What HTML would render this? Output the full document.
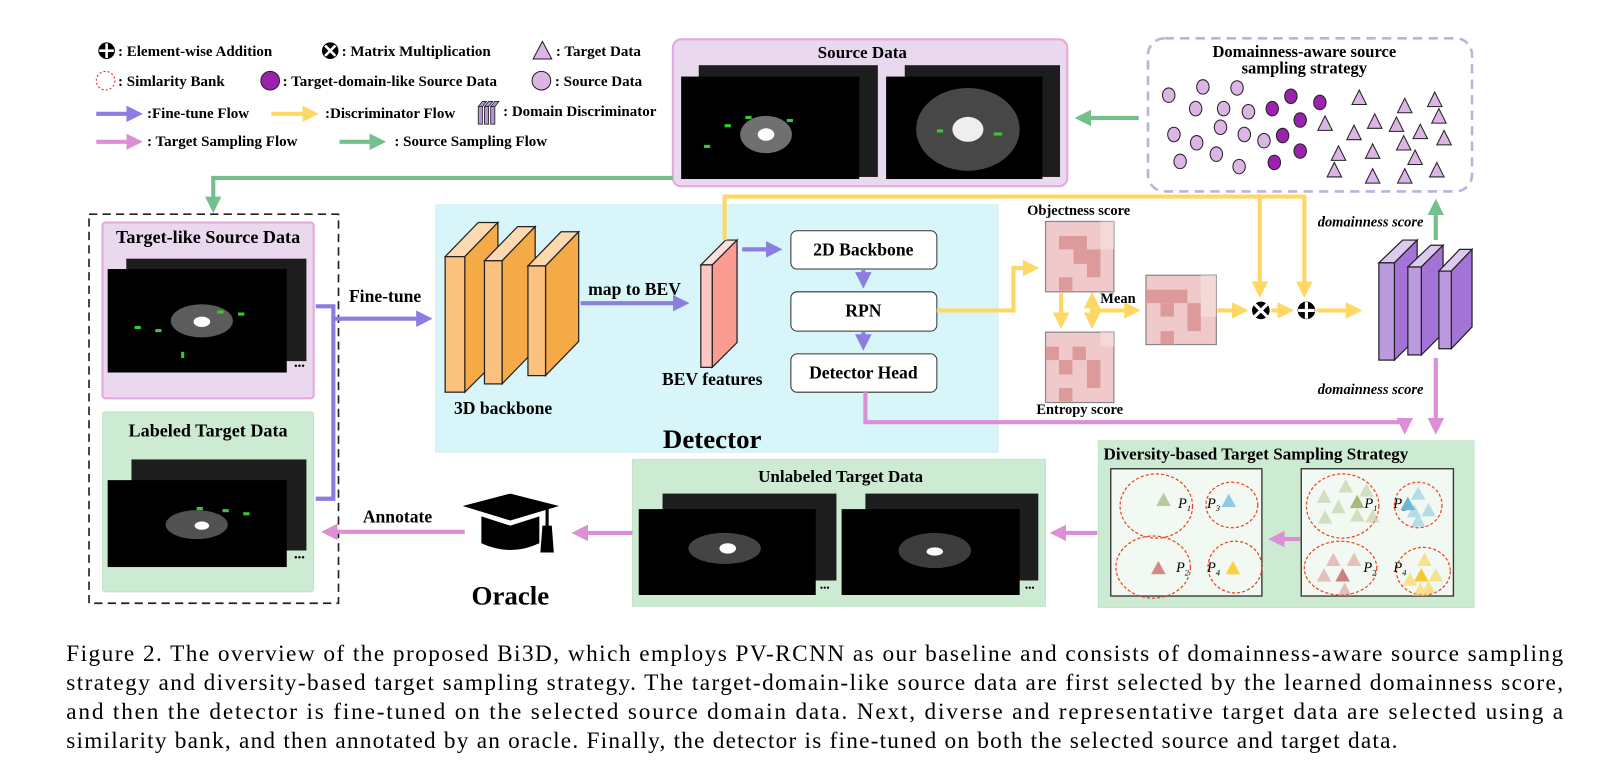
<!DOCTYPE html>
<html><head><meta charset="utf-8"><style>
html,body{margin:0;padding:0;background:#fff;}
svg{display:block;}
svg text{font-family:"Liberation Serif","Times New Roman",serif;}
</style></head><body>
<svg width="1618" height="774" viewBox="0 0 1563 748" preserveAspectRatio="none" xmlns="http://www.w3.org/2000/svg" font-family="Liberation Serif, serif">
<defs>
<marker id="mP" markerWidth="4" markerHeight="4" refX="2.5" refY="2" orient="auto" markerUnits="strokeWidth"><path d="M0,0 L4,2 L0,4 Z" fill="#8a7ee3"/></marker>
<marker id="mY" markerWidth="4" markerHeight="4" refX="2.5" refY="2" orient="auto" markerUnits="strokeWidth"><path d="M0,0 L4,2 L0,4 Z" fill="#fdd864"/></marker>
<marker id="mK" markerWidth="4" markerHeight="4" refX="2.5" refY="2" orient="auto" markerUnits="strokeWidth"><path d="M0,0 L4,2 L0,4 Z" fill="#dc8fd5"/></marker>
<marker id="mG" markerWidth="4" markerHeight="4" refX="2.5" refY="2" orient="auto" markerUnits="strokeWidth"><path d="M0,0 L4,2 L0,4 Z" fill="#74c08d"/></marker>
<path id="tri" d="M0,-8 L7,6 L-7,6Z" stroke="#222" stroke-width="1"/>
<path id="trs" d="M0,-7 L7,6 L-7,6Z"/>
</defs>

<!-- Legend -->
<g font-size="14.5" font-weight="bold">
<circle cx="103" cy="49" r="8" fill="#000"/><path d="M103,42 V56 M96,49 H110" stroke="#fff" stroke-width="2.5"/>
<text x="114" y="54">: Element-wise Addition</text>
<circle cx="319" cy="49" r="8" fill="#000"/><path d="M314,44 L324,54 M324,44 L314,54" stroke="#fff" stroke-width="2.5"/>
<text x="330" y="54">: Matrix Multiplication</text>
<path d="M524,40 L533,57 L515,57Z" fill="#dcb4e6" stroke="#222"/>
<text x="537" y="54">: Target Data</text>
<circle cx="102" cy="78" r="9" fill="none" stroke="#e22" stroke-dasharray="2,2"/>
<text x="114" y="83">: Simlarity Bank</text>
<circle cx="261" cy="78" r="9" fill="#9b22ae" stroke="#222"/>
<text x="273" y="83">: Target-domain-like Source Data</text>
<circle cx="523" cy="78" r="9" fill="#dcb4e6" stroke="#222"/>
<text x="536" y="83">: Source Data</text>
<line x1="93" y1="110" x2="132" y2="110" stroke="#8a7ee3" stroke-width="4" marker-end="url(#mP)"/>
<text x="142" y="114">:Fine-tune Flow</text>
<line x1="262" y1="110" x2="302" y2="110" stroke="#fdd864" stroke-width="4" marker-end="url(#mY)"/>
<text x="314" y="114">:Discriminator Flow</text>
<g stroke="#222" stroke-width="0.8" fill="#b795dd"><rect x="462" y="103" width="4" height="17"/><rect x="468" y="103" width="4" height="17"/><rect x="474" y="103" width="4" height="17"/><path d="M462,103 l4,-5 h4 l-4,5z M468,103 l4,-5 h4 l-4,5z M474,103 l4,-5 h4 l-4,5z"/></g>
<text x="486" y="112">: Domain Discriminator</text>
<line x1="93" y1="137" x2="132" y2="137" stroke="#dc8fd5" stroke-width="4" marker-end="url(#mK)"/>
<text x="142" y="141">: Target Sampling Flow</text>
<line x1="328" y1="137" x2="367" y2="137" stroke="#74c08d" stroke-width="4" marker-end="url(#mG)"/>
<text x="381" y="141">: Source Sampling Flow</text>
</g>

<!-- Source Data -->
<rect x="650" y="38" width="381" height="142" rx="8" fill="#ead9ee" stroke="#e3a8dd" stroke-width="2"/>
<text x="833" y="56" font-size="16.5" font-weight="bold" text-anchor="middle">Source Data</text>
<rect x="675" y="63" width="173" height="108" fill="#1d1d1d"/>
<rect x="658" y="74" width="172" height="99" fill="#000"/>
<ellipse cx="740" cy="130" rx="25" ry="18" fill="#bbb" opacity="0.6"/><ellipse cx="740" cy="130" rx="8" ry="6" fill="#fff"/>
<rect x="874" y="63" width="150" height="108" fill="#1d1d1d"/>
<rect x="856" y="74" width="151" height="99" fill="#000"/>
<ellipse cx="935" cy="125" rx="50" ry="40" fill="#777" opacity="0.6"/><ellipse cx="935" cy="125" rx="15" ry="12" fill="#eee"/>
<g fill="#3c3" ><rect x="700" y="120" width="6" height="3"/><rect x="720" y="112" width="6" height="3"/><rect x="760" y="115" width="6" height="3"/><rect x="680" y="140" width="6" height="3"/><rect x="905" y="125" width="6" height="3"/><rect x="960" y="128" width="8" height="3"/></g>

<!-- Domainness box -->
<rect x="1109" y="37" width="313" height="148" rx="16" fill="#fff" stroke="#b9b4dc" stroke-width="2.5" stroke-dasharray="9,6"/>
<text x="1260" y="55" font-size="16" font-weight="bold" text-anchor="middle">Domainness-aware source</text>
<text x="1260" y="71" font-size="16" font-weight="bold" text-anchor="middle">sampling strategy</text>
<g fill="#dcb4e6" stroke="#222" stroke-width="1">
<ellipse cx="1129" cy="92" rx="6" ry="7"/><ellipse cx="1162" cy="84" rx="6" ry="7"/><ellipse cx="1195" cy="85" rx="6" ry="7"/><ellipse cx="1155" cy="105" rx="6" ry="7"/><ellipse cx="1182" cy="105" rx="6" ry="7"/><ellipse cx="1206" cy="108" rx="6" ry="7"/><ellipse cx="1179" cy="123" rx="6" ry="7"/><ellipse cx="1134" cy="130" rx="6" ry="7"/><ellipse cx="1156" cy="138" rx="6" ry="7"/><ellipse cx="1202" cy="130" rx="6" ry="7"/><ellipse cx="1221" cy="136" rx="6" ry="7"/><ellipse cx="1140" cy="156" rx="6" ry="7"/><ellipse cx="1175" cy="149" rx="6" ry="7"/><ellipse cx="1197" cy="161" rx="6" ry="7"/>
</g>
<g fill="#9b22ae" stroke="#222" stroke-width="1">
<ellipse cx="1247" cy="93" rx="6" ry="7"/><ellipse cx="1275" cy="99" rx="6" ry="7"/><ellipse cx="1229" cy="105" rx="6" ry="7"/><ellipse cx="1256" cy="116" rx="6" ry="7"/><ellipse cx="1239" cy="131" rx="6" ry="7"/><ellipse cx="1256" cy="146" rx="6" ry="7"/><ellipse cx="1231" cy="157" rx="6" ry="7"/>
</g>
<g fill="#dcb4e6">
<use href="#tri" x="1313" y="95"/><use href="#tri" x="1357" y="103"/><use href="#tri" x="1280" y="120"/><use href="#tri" x="1328" y="118"/><use href="#tri" x="1349" y="121"/><use href="#tri" x="1308" y="129"/><use href="#tri" x="1372" y="128"/><use href="#tri" x="1356" y="139"/><use href="#tri" x="1293" y="149"/><use href="#tri" x="1326" y="147"/><use href="#tri" x="1367" y="153"/><use href="#tri" x="1289" y="165"/><use href="#tri" x="1326" y="171"/><use href="#tri" x="1357" y="171"/><use href="#tri" x="1386" y="97"/><use href="#tri" x="1390" y="113"/><use href="#tri" x="1395" y="134"/><use href="#tri" x="1388" y="165"/>
</g>
<line x1="1100" y1="114" x2="1044" y2="114" stroke="#74c08d" stroke-width="4" marker-end="url(#mG)"/>

<!-- green top line -->
<path d="M650,172 H206 V200" fill="none" stroke="#74c08d" stroke-width="4" marker-end="url(#mG)"/>

<!-- Left dashed -->
<rect x="86" y="207" width="241" height="376" fill="none" stroke="#222" stroke-width="1.6" stroke-dasharray="8,5"/>
<rect x="99" y="215" width="204" height="170" rx="3" fill="#ead9ee" stroke="#e3a8dd" stroke-width="2"/>
<text x="201" y="235" font-size="17.5" font-weight="bold" text-anchor="middle">Target-like Source Data</text>
<rect x="122" y="250" width="174" height="99" fill="#1d1d1d"/>
<rect x="104" y="260" width="173" height="100" fill="#000"/>
<ellipse cx="195" cy="310" rx="30" ry="16" fill="#999" opacity="0.6"/><ellipse cx="195" cy="311" rx="8" ry="5" fill="#fff"/>
<g fill="#3c3"><rect x="130" y="315" width="6" height="3"/><rect x="150" y="318" width="6" height="3"/><rect x="210" y="300" width="6" height="3"/><rect x="230" y="302" width="6" height="3"/><rect x="175" y="340" width="3" height="6"/></g>
<text x="284" y="357" font-size="10">•••</text>
<rect x="99" y="398" width="204" height="174" rx="3" fill="#cdebd3" stroke="#c2e4c8"/>
<text x="201" y="422" font-size="17.5" font-weight="bold" text-anchor="middle">Labeled Target Data</text>
<rect x="127" y="444" width="169" height="88" fill="#1d1d1d"/>
<rect x="104" y="464" width="173" height="84" fill="#000"/>
<ellipse cx="190" cy="507" rx="30" ry="14" fill="#888" opacity="0.6"/><ellipse cx="195" cy="508" rx="7" ry="4" fill="#fff"/>
<g fill="#3c3"><rect x="215" y="492" width="6" height="3"/><rect x="235" y="495" width="6" height="3"/><rect x="190" y="490" width="6" height="3"/></g>
<text x="284" y="542" font-size="10">•••</text>

<!-- purple bracket -->
<path d="M305,296 H322 V482 H305" fill="none" stroke="#8a7ee3" stroke-width="4"/>
<line x1="322" y1="308" x2="412" y2="308" stroke="#8a7ee3" stroke-width="4" marker-end="url(#mP)"/>
<text x="372" y="292" font-size="17" font-weight="bold" text-anchor="middle">Fine-tune</text>

<!-- Detector -->
<rect x="421" y="198" width="543" height="239" fill="#d8f6f9" stroke="#cdeef2"/>
<g stroke="#222" stroke-width="1.2">
<path d="M430,248 l32,-33 h19 l-32,33z" fill="#fdd9b0"/><path d="M449,248 l32,-33 v132 l-32,32z" fill="#f5aa47"/><rect x="430" y="248" width="19" height="131" fill="#fbc17e"/>
<path d="M468,252 l32,-33 h17 l-32,33z" fill="#fdd9b0"/><path d="M485,252 l32,-33 v119 l-32,33z" fill="#f5aa47"/><rect x="468" y="252" width="17" height="119" fill="#fbc17e"/>
<path d="M510,257 l32,-33 h17 l-32,33z" fill="#fdd9b0"/><path d="M527,257 l32,-33 v106 l-32,33z" fill="#f5aa47"/><rect x="510" y="257" width="17" height="106" fill="#fbc17e"/>
<path d="M677,256 l24,-24 h11 l-24,24z" fill="#fde0de"/><path d="M688,256 l24,-24 v99 l-24,24z" fill="#fb9c93"/><rect x="677" y="256" width="11" height="99" fill="#fdc7c3"/>
</g>
<text x="486" y="400" font-size="17" font-weight="bold" text-anchor="middle">3D backbone</text>
<line x1="561" y1="293" x2="660" y2="293" stroke="#8a7ee3" stroke-width="4" marker-end="url(#mP)"/>
<text x="613" y="285" font-size="17" font-weight="bold" text-anchor="middle">map to BEV</text>
<text x="688" y="372" font-size="17" font-weight="bold" text-anchor="middle">BEV features</text>
<line x1="717" y1="241" x2="750" y2="241" stroke="#8a7ee3" stroke-width="4" marker-end="url(#mP)"/>
<rect x="764" y="223" width="141" height="37" rx="6" fill="#fff" stroke="#333"/>
<text x="834" y="247" font-size="17" font-weight="bold" text-anchor="middle">2D Backbone</text>
<rect x="764" y="282" width="141" height="38" rx="6" fill="#fff" stroke="#333"/>
<text x="834" y="306" font-size="17" font-weight="bold" text-anchor="middle">RPN</text>
<rect x="764" y="342" width="141" height="37" rx="6" fill="#fff" stroke="#333"/>
<text x="834" y="366" font-size="17" font-weight="bold" text-anchor="middle">Detector Head</text>
<line x1="834" y1="261" x2="834" y2="273" stroke="#8a7ee3" stroke-width="4" marker-end="url(#mP)"/>
<line x1="834" y1="321" x2="834" y2="333" stroke="#8a7ee3" stroke-width="4" marker-end="url(#mP)"/>
<text x="688" y="433" font-size="26" font-weight="bold" text-anchor="middle">Detector</text>

<!-- yellow flows -->
<g fill="none" stroke="#fdd864" stroke-width="4">
<path d="M700,232 V190 H1260 V282" marker-end="url(#mY)"/>
<path d="M1217,190 V282" marker-end="url(#mY)"/>
<path d="M905,300 H979 V259 H998" marker-end="url(#mY)"/>
<path d="M1025,283 V312" marker-end="url(#mY)"/>
<path d="M1055,296 V312" marker-end="url(#mY)"/>
<path d="M1055,300 V288" marker-end="url(#mY)"/>
<path d="M1055,300 H1096" marker-end="url(#mY)"/>
<path d="M1176,300 H1200" marker-end="url(#mY)"/>
<path d="M1228,300 H1244" marker-end="url(#mY)"/>
<path d="M1272,300 H1310" marker-end="url(#mY)"/>
</g>
<!-- matrices -->
<g stroke="#888" stroke-width="1.2">
<rect x="1010" y="214" width="66" height="68" fill="#f0caca"/>
<rect x="1010" y="321" width="66" height="68" fill="#f0caca"/>
<rect x="1107" y="266" width="68" height="67" fill="#f0caca"/>
</g>
<g fill="#d98f8f" opacity="0.8">
<rect x="1023" y="228" width="27" height="13"/><rect x="1037" y="241" width="13" height="14"/><rect x="1050" y="241" width="13" height="27"/><rect x="1023" y="268" width="13" height="13"/>
<rect x="1010" y="335" width="13" height="13"/><rect x="1036" y="335" width="13" height="13"/><rect x="1023" y="348" width="13" height="14"/><rect x="1050" y="348" width="13" height="27"/><rect x="1023" y="375" width="13" height="13"/>
<rect x="1107" y="280" width="40" height="13"/><rect x="1121" y="293" width="13" height="13"/><rect x="1147" y="293" width="13" height="27"/><rect x="1121" y="320" width="13" height="13"/>
</g>
<g fill="#f6dede" opacity="0.7"><rect x="1063" y="214" width="13" height="27"/><rect x="1063" y="321" width="13" height="14"/><rect x="1160" y="266" width="15" height="40"/></g>
<text x="1042" y="208" font-size="14" font-weight="bold" text-anchor="middle">Objectness score</text>
<text x="1043" y="400" font-size="14" font-weight="bold" text-anchor="middle">Entropy score</text>
<text x="1080" y="293" font-size="14" font-weight="bold" text-anchor="middle">Mean</text>
<circle cx="1218" cy="300" r="9" fill="#000" stroke="#fff" stroke-width="1"/><path d="M1212,294 L1224,306 M1224,294 L1212,306" stroke="#fff" stroke-width="3"/>
<circle cx="1262" cy="300" r="9" fill="#000" stroke="#fff" stroke-width="1"/><path d="M1262,292 V308 M1254,300 H1270" stroke="#fff" stroke-width="3"/>

<!-- discriminator -->
<g stroke="#222" stroke-width="1.2">
<path d="M1332,254 l23,-22 h14 l-22,22z" fill="#dccaf0"/><path d="M1347,254 l22,-22 v94 l-22,22z" fill="#a374d6"/><rect x="1332" y="254" width="15" height="94" fill="#bb9adf"/>
<path d="M1360,258 l22,-21 h12 l-21,21z" fill="#dccaf0"/><path d="M1373,258 l21,-21 v85 l-21,21z" fill="#a374d6"/><rect x="1360" y="258" width="13" height="85" fill="#bb9adf"/>
<path d="M1390,262 l20,-21 h12 l-20,21z" fill="#dccaf0"/><path d="M1402,262 l20,-21 v75 l-20,21z" fill="#a374d6"/><rect x="1390" y="262" width="12" height="75" fill="#bb9adf"/>
</g>
<line x1="1387" y1="232" x2="1387" y2="198" stroke="#74c08d" stroke-width="4" marker-end="url(#mG)"/>
<text x="1324" y="219" font-size="14" font-weight="bold" font-style="italic" text-anchor="middle">domainness score</text>
<text x="1324" y="381" font-size="14" font-weight="bold" font-style="italic" text-anchor="middle">domainness score</text>
<line x1="1387" y1="346" x2="1387" y2="414" stroke="#dc8fd5" stroke-width="4" marker-end="url(#mK)"/>
<path d="M836,379 V408 H1357 V414" fill="none" stroke="#dc8fd5" stroke-width="4" marker-end="url(#mK)"/>

<!-- Diversity -->
<rect x="1061" y="426" width="363" height="161" fill="#cdebd3" stroke="#c2e4c8"/>
<text x="1066" y="444" font-size="16.5" font-weight="bold">Diversity-based Target Sampling Strategy</text>
<rect x="1073" y="453" width="146" height="123" fill="#f1f9f2" stroke="#333" stroke-width="1.3"/>
<rect x="1257" y="453" width="147" height="123" fill="#f1f9f2" stroke="#333" stroke-width="1.3"/>
<g fill="none" stroke="#e42" stroke-width="1.2" stroke-dasharray="3,2">
<ellipse cx="1117" cy="489" rx="35" ry="31"/><ellipse cx="1190" cy="488" rx="25" ry="22"/><ellipse cx="1114" cy="548" rx="36" ry="30"/><ellipse cx="1193" cy="548" rx="26" ry="25"/>
<ellipse cx="1297" cy="489" rx="35" ry="31"/><ellipse cx="1370" cy="488" rx="23" ry="22"/><ellipse cx="1295" cy="549" rx="35" ry="26"/><ellipse cx="1375" cy="552" rx="26" ry="23"/>
</g>
<use href="#trs" x="1124" y="483" fill="#bcc99a"/><use href="#trs" x="1187" y="484" fill="#8ecbe0"/>
<use href="#trs" x="1119" y="549" fill="#d58a8a"/><use href="#trs" x="1191" y="549" fill="#fccf3c"/>
<g font-size="14" font-style="italic"><text x="1138" y="491">P<tspan font-size="8" dy="3">1</tspan></text><text x="1166" y="491">P<tspan font-size="8" dy="3">3</tspan></text><text x="1136" y="553">P<tspan font-size="8" dy="3">2</tspan></text><text x="1166" y="553">P<tspan font-size="8" dy="3">4</tspan></text>
<text x="1318" y="491">P<tspan font-size="8" dy="3">1</tspan></text><text x="1346" y="491">P<tspan font-size="8" dy="3">3</tspan></text><text x="1317" y="553">P<tspan font-size="8" dy="3">2</tspan></text><text x="1346" y="553">P<tspan font-size="8" dy="3">4</tspan></text></g>
<g fill="#bcc99a" opacity="0.55"><use href="#trs" x="1279" y="480"/><use href="#trs" x="1300" y="470"/><use href="#trs" x="1320" y="474"/><use href="#trs" x="1293" y="490"/><use href="#trs" x="1280" y="500"/><use href="#trs" x="1311" y="498"/><use href="#trs" x="1326" y="499"/></g>
<use href="#trs" x="1311" y="485" fill="#a9b97a"/>
<g fill="#8ecbe0" opacity="0.6"><use href="#trs" x="1370" y="477"/><use href="#trs" x="1366" y="494"/><use href="#trs" x="1380" y="493"/><use href="#trs" x="1370" y="503"/></g>
<use href="#trs" x="1360" y="487" fill="#6ab7d2"/>
<g fill="#d58a8a" opacity="0.5"><use href="#trs" x="1288" y="541"/><use href="#trs" x="1308" y="541"/><use href="#trs" x="1279" y="556"/><use href="#trs" x="1299" y="570"/></g>
<use href="#trs" x="1297" y="556" fill="#d07f7f"/>
<g fill="#fccf3c" opacity="0.55"><use href="#trs" x="1376" y="541"/><use href="#trs" x="1387" y="556"/><use href="#trs" x="1362" y="560"/><use href="#trs" x="1380" y="568"/><use href="#trs" x="1372" y="570"/></g>
<use href="#trs" x="1373" y="556" fill="#f8c730"/>
<line x1="1256" y1="521" x2="1231" y2="521" stroke="#dc8fd5" stroke-width="4" marker-end="url(#mK)"/>
<line x1="1060" y1="515" x2="1020" y2="515" stroke="#dc8fd5" stroke-width="4" marker-end="url(#mK)"/>

<!-- Unlabeled -->
<rect x="611" y="444" width="399" height="142" fill="#cdebd3" stroke="#c2e4c8"/>
<text x="812" y="466" font-size="16.5" font-weight="bold" text-anchor="middle">Unlabeled Target Data</text>
<rect x="640" y="477" width="168" height="84" fill="#1d1d1d"/><rect x="617" y="492" width="171" height="83" fill="#000"/>
<ellipse cx="700" cy="530" rx="35" ry="15" fill="#888" opacity="0.5"/><ellipse cx="703" cy="530" rx="8" ry="5" fill="#fff"/>
<rect x="836" y="477" width="167" height="84" fill="#1d1d1d"/><rect x="813" y="492" width="172" height="83" fill="#000"/>
<ellipse cx="903" cy="532" rx="35" ry="17" fill="#777" opacity="0.5"/><ellipse cx="903" cy="533" rx="8" ry="4" fill="#fff"/>
<text x="792" y="571" font-size="9">•••</text><text x="990" y="571" font-size="9">•••</text>

<line x1="611" y1="515" x2="558" y2="515" stroke="#dc8fd5" stroke-width="4" marker-end="url(#mK)"/>
<!-- Oracle -->
<path d="M447,489 L493,477 L540,489 L493,503 Z" fill="#000"/>
<path d="M465,499 L493,508 L521,499 V525 Q493,538 465,525 Z" fill="#000"/>
<rect x="527" y="490" width="3" height="20" fill="#000"/><path d="M524,508 h9 l2,26 h-13z" fill="#000"/>
<text x="493" y="584" font-size="26" font-weight="bold" text-anchor="middle">Oracle</text>
<line x1="449" y1="514" x2="316" y2="514" stroke="#dc8fd5" stroke-width="4" marker-end="url(#mK)"/>
<text x="384" y="505" font-size="17" font-weight="bold" text-anchor="middle">Annotate</text>

<!-- Caption -->
<g font-size="22.5">
<text x="64" y="639" textLength="1446" lengthAdjust="spacing">Figure 2. The overview of the proposed Bi3D, which employs PV-RCNN as our baseline and consists of domainness-aware source sampling</text>
<text x="64" y="667" textLength="1446" lengthAdjust="spacing">strategy and diversity-based target sampling strategy. The target-domain-like source data are first selected by the learned domainness score,</text>
<text x="64" y="695" textLength="1446" lengthAdjust="spacing">and then the detector is fine-tuned on the selected source domain data. Next, diverse and representative target data are selected using a</text>
<text x="64" y="723" textLength="1286" lengthAdjust="spacing">similarity bank, and then annotated by an oracle. Finally, the detector is fine-tuned on both the selected source and target data.</text>
</g>
</svg>
</body></html>
